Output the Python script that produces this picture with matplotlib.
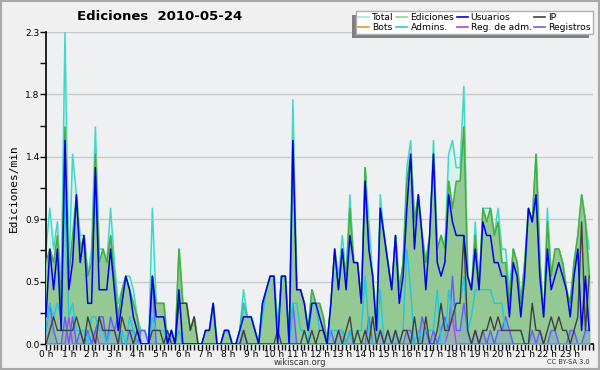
import numpy as np
import matplotlib
matplotlib.use('Agg')
import matplotlib.pyplot as plt
from matplotlib.patches import Rectangle
from matplotlib.lines import Line2D
from matplotlib.ticker import MultipleLocator, FixedLocator

# edits per minute, one value per 10 minutes (144 values)
total = [
    0.7, 1.0, 0.7, 0.9, 0.4, 2.3,  0.5, 1.4, 1.1, 0.8, 0.8, 0.5,
    0.7, 1.6, 0.7, 0.7, 0.6, 1.0,  0.6, 0.3, 0.4, 0.5, 0.5, 0.4,
    0.2, 0.1, 0.1, 0.0, 1.0, 0.3,  0.3, 0.3, 0.0, 0.1, 0.0, 0.7,
    0.3, 0.3, 0.1, 0.2, 0.0, 0.0,  0.1, 0.1, 0.3, 0.0, 0.0, 0.1,
    0.1, 0.0, 0.0, 0.1, 0.4, 0.2,  0.2, 0.1, 0.0, 0.3, 0.4, 0.5,
    0.5, 0.1, 0.5, 0.5, 0.0, 1.8,  0.4, 0.4, 0.3, 0.1, 0.4, 0.3,
    0.3, 0.2, 0.0, 0.3, 0.7, 0.5,  0.8, 0.5, 1.1, 0.6, 0.6, 0.3,
    1.3, 0.9, 0.5, 0.1, 1.1, 0.8,  0.6, 0.4, 0.8, 0.4, 0.6, 1.3,
    1.5, 0.9, 1.1, 0.8, 0.6, 0.8,  1.5, 0.7, 0.8, 0.7, 1.4, 1.5,
    1.3, 1.3, 1.9, 0.5, 0.4, 0.9,  0.4, 1.0, 1.0, 1.0, 0.8, 1.0,
    0.7, 0.7, 0.4, 0.7, 0.6, 0.3,  0.6, 1.0, 0.9, 1.4, 0.6, 0.2,
    1.0, 0.5, 0.7, 0.7, 0.6, 0.4,  0.3, 0.6, 0.8, 1.1, 0.9, 0.7]
ediciones = [
    0.6, 0.7, 0.6, 0.8, 0.3, 1.6,  0.5, 0.8, 1.1, 0.7, 0.8, 0.5,
    0.6, 1.4, 0.6, 0.7, 0.6, 0.8,  0.5, 0.2, 0.4, 0.5, 0.4, 0.3,
    0.2, 0.0, 0.0, 0.0, 0.5, 0.3,  0.3, 0.3, 0.0, 0.1, 0.0, 0.7,
    0.3, 0.3, 0.1, 0.2, 0.0, 0.0,  0.1, 0.1, 0.3, 0.0, 0.0, 0.1,
    0.1, 0.0, 0.0, 0.1, 0.3, 0.2,  0.2, 0.1, 0.0, 0.3, 0.4, 0.5,
    0.5, 0.1, 0.5, 0.5, 0.0, 1.5,  0.4, 0.4, 0.3, 0.1, 0.4, 0.3,
    0.3, 0.2, 0.0, 0.3, 0.7, 0.4,  0.7, 0.5, 1.0, 0.6, 0.6, 0.3,
    1.3, 0.7, 0.5, 0.1, 1.0, 0.8,  0.6, 0.4, 0.8, 0.4, 0.6, 1.2,
    1.4, 0.9, 1.1, 0.8, 0.6, 0.8,  1.4, 0.7, 0.8, 0.7, 1.2, 1.0,
    1.2, 1.2, 1.6, 0.5, 0.4, 0.8,  0.4, 1.0, 0.9, 1.0, 0.8, 0.9,
    0.6, 0.6, 0.3, 0.7, 0.6, 0.3,  0.6, 1.0, 0.9, 1.4, 0.6, 0.2,
    0.9, 0.5, 0.7, 0.7, 0.6, 0.4,  0.3, 0.6, 0.8, 1.1, 0.9, 0.5]
usuarios = [
    0.2, 0.7, 0.4, 0.7, 0.1, 1.5,  0.4, 0.6, 1.1, 0.6, 0.8, 0.3,
    0.3, 1.3, 0.4, 0.4, 0.4, 0.7,  0.4, 0.1, 0.3, 0.5, 0.4, 0.2,
    0.1, 0.0, 0.0, 0.0, 0.5, 0.2,  0.2, 0.2, 0.0, 0.1, 0.0, 0.4,
    0.0, 0.0, 0.0, 0.0, 0.0, 0.0,  0.1, 0.1, 0.3, 0.0, 0.0, 0.1,
    0.1, 0.0, 0.0, 0.1, 0.2, 0.2,  0.2, 0.1, 0.0, 0.3, 0.4, 0.5,
    0.5, 0.0, 0.5, 0.5, 0.0, 1.5,  0.4, 0.4, 0.3, 0.1, 0.3, 0.3,
    0.2, 0.1, 0.0, 0.3, 0.7, 0.4,  0.7, 0.4, 0.8, 0.6, 0.6, 0.3,
    1.2, 0.7, 0.5, 0.1, 1.0, 0.8,  0.6, 0.4, 0.8, 0.3, 0.5, 1.0,
    1.4, 0.7, 1.1, 0.8, 0.4, 0.8,  1.4, 0.6, 0.5, 0.6, 1.1, 0.9,
    0.8, 0.8, 0.8, 0.5, 0.4, 0.7,  0.4, 0.9, 0.8, 0.8, 0.6, 0.6,
    0.5, 0.5, 0.2, 0.6, 0.5, 0.2,  0.5, 1.0, 0.9, 1.1, 0.5, 0.2,
    0.7, 0.4, 0.5, 0.6, 0.5, 0.4,  0.2, 0.5, 0.7, 0.1, 0.5, 0.1]
ip = [
    0.0, 0.1, 0.2, 0.1, 0.1, 0.1,  0.1, 0.1, 0.2, 0.1, 0.0, 0.2,
    0.1, 0.0, 0.2, 0.1, 0.1, 0.1,  0.1, 0.0, 0.2, 0.1, 0.1, 0.0,
    0.1, 0.0, 0.0, 0.0, 0.1, 0.1,  0.1, 0.0, 0.1, 0.0, 0.0, 0.3,
    0.3, 0.3, 0.1, 0.2, 0.0, 0.0,  0.0, 0.0, 0.0, 0.0, 0.0, 0.0,
    0.0, 0.0, 0.0, 0.0, 0.1, 0.0,  0.0, 0.0, 0.0, 0.0, 0.0, 0.0,
    0.0, 0.1, 0.0, 0.0, 0.0, 0.0,  0.0, 0.0, 0.1, 0.0, 0.1, 0.0,
    0.1, 0.1, 0.0, 0.0, 0.0, 0.1,  0.0, 0.1, 0.2, 0.0, 0.1, 0.0,
    0.1, 0.0, 0.2, 0.0, 0.1, 0.0,  0.1, 0.0, 0.1, 0.0, 0.1, 0.1,
    0.0, 0.2, 0.0, 0.0, 0.2, 0.0,  0.0, 0.1, 0.3, 0.1, 0.1, 0.2,
    0.3, 0.3, 0.8, 0.1, 0.0, 0.1,  0.0, 0.1, 0.1, 0.2, 0.1, 0.2,
    0.1, 0.1, 0.1, 0.1, 0.1, 0.1,  0.0, 0.0, 0.3, 0.1, 0.1, 0.0,
    0.1, 0.2, 0.1, 0.2, 0.1, 0.1,  0.0, 0.1, 0.2, 0.9, 0.1, 0.5]
admins = [
    0.1, 0.3, 0.2, 0.3, 0.2, 1.1,  0.2, 0.3, 0.1, 0.1, 0.1, 0.0,
    0.2, 0.2, 0.1, 0.1, 0.0, 0.1,  0.1, 0.0, 0.1, 0.0, 0.2, 0.1,
    0.0, 0.0, 0.0, 0.0, 0.2, 0.1,  0.1, 0.1, 0.0, 0.0, 0.0, 0.1,
    0.0, 0.0, 0.0, 0.0, 0.0, 0.0,  0.0, 0.0, 0.0, 0.0, 0.0, 0.1,
    0.1, 0.0, 0.0, 0.1, 0.3, 0.2,  0.2, 0.1, 0.0, 0.2, 0.4, 0.5,
    0.5, 0.1, 0.5, 0.5, 0.0, 0.3,  0.3, 0.1, 0.1, 0.0, 0.3, 0.3,
    0.1, 0.1, 0.0, 0.1, 0.1, 0.1,  0.1, 0.0, 0.1, 0.0, 0.1, 0.1,
    0.5, 0.1, 0.0, 0.0, 0.4, 0.0,  0.1, 0.0, 0.1, 0.0, 0.1, 0.7,
    0.4, 0.0, 0.1, 0.0, 0.1, 0.1,  0.1, 0.4, 0.0, 0.0, 0.4, 0.2,
    0.3, 0.3, 0.5, 0.1, 0.2, 0.4,  0.4, 0.4, 0.4, 0.4, 0.3, 0.3,
    0.3, 0.1, 0.1, 0.1, 0.1, 0.1,  0.0, 0.0, 0.0, 0.0, 0.0, 0.0,
    0.0, 0.0, 0.0, 0.0, 0.0, 0.0,  0.0, 0.0, 0.0, 0.0, 0.0, 0.0]
registros = [
    0.1, 0.3, 0.1, 0.0, 0.0, 0.2,  0.0, 0.2, 0.0, 0.1, 0.0, 0.1,
    0.0, 0.1, 0.2, 0.2, 0.0, 0.2,  0.1, 0.2, 0.0, 0.0, 0.1, 0.1,
    0.0, 0.1, 0.1, 0.0, 0.5, 0.0,  0.0, 0.0, 0.0, 0.1, 0.0, 0.0,
    0.0, 0.0, 0.0, 0.0, 0.0, 0.0,  0.0, 0.0, 0.0, 0.0, 0.0, 0.0,
    0.0, 0.0, 0.0, 0.0, 0.1, 0.0,  0.0, 0.0, 0.0, 0.0, 0.0, 0.0,
    0.0, 0.0, 0.0, 0.0, 0.0, 0.3,  0.0, 0.0, 0.0, 0.0, 0.0, 0.0,
    0.0, 0.0, 0.0, 0.1, 0.0, 0.1,  0.1, 0.0, 0.1, 0.0, 0.0, 0.0,
    0.0, 0.2, 0.0, 0.0, 0.1, 0.0,  0.1, 0.0, 0.1, 0.0, 0.0, 0.1,
    0.1, 0.0, 0.0, 0.2, 0.1, 0.0,  0.1, 0.0, 0.1, 0.2, 0.1, 0.5,
    0.1, 0.1, 0.3, 0.1, 0.0, 0.1,  0.0, 0.1, 0.0, 0.1, 0.0, 0.1,
    0.1, 0.2, 0.1, 0.0, 0.0, 0.0,  0.0, 0.0, 0.1, 0.0, 0.1, 0.0,
    0.0, 0.1, 0.1, 0.0, 0.0, 0.0,  0.1, 0.1, 0.0, 0.0, 0.1, 0.1]
reg_adm = [0.0] * 144
reg_adm[6] = 0.2
reg_adm[13] = 0.1
reg_adm[106] = 0.1
reg_adm[107] = 0.2
bots = [0.0] * 144

hour_labels = ['%d h' % h for h in range(24)]

hours = np.arange(len(total)) / 6.0

fig = plt.figure(figsize=(6, 3.7), dpi=100)
fig.patch.set_facecolor('#f0f0f0')
ax = fig.add_axes([46 / 600, 26 / 370, 547 / 600, 312 / 370])
ax.set_facecolor('#eef0f2')

c_total = '#40d8c8'
c_edic = '#40b040'
c_usu = '#0000e8'
c_ip = '#404040'
c_bots = '#ff9020'
c_adm = '#20c8e0'
c_regadm = '#c040e0'
c_reg = '#6060ff'

ax.fill_between(hours, total, color='#d8f2ee', zorder=1)
ax.plot(hours, total, color=c_total, lw=1.1, zorder=2)
ax.fill_between(hours, ediciones, color='#94c994', zorder=3)
ax.plot(hours, ediciones, color=c_edic, lw=1.1, zorder=4)
ax.fill_between(hours, registros, color='#8080ff', alpha=0.25, zorder=5)
ax.plot(hours, bots, color=c_bots, lw=1.0, zorder=5)
ax.plot(hours, reg_adm, color=c_regadm, lw=1.0, zorder=6)
ax.plot(hours, registros, color=c_reg, lw=1.0, zorder=6)
ax.plot(hours, admins, color=c_adm, lw=1.0, zorder=7)
ax.plot(hours, ip, color=c_ip, lw=1.0, zorder=8)
ax.plot(hours, usuarios, color=c_usu, lw=1.1, zorder=9)

ax.set_xlim(0, 24)
ax.set_ylim(0, 2.3)
yt = np.linspace(0, 2.3, 6)
ax.yaxis.set_major_locator(FixedLocator(yt))
ax.yaxis.set_minor_locator(FixedLocator(yt[:-1] + 0.23))
ax.set_yticklabels(['%.1f' % v for v in yt], fontsize=6.5)
ax.xaxis.set_major_locator(FixedLocator(range(24)))
ax.xaxis.set_minor_locator(MultipleLocator(1 / 6))
ax.set_xticklabels(hour_labels, fontsize=6.5)
ax.tick_params(axis='both', which='both', direction='out', width=1, colors='black', pad=0.5)
ax.tick_params(axis='both', which='major', length=4)
ax.tick_params(axis='both', which='minor', length=4)
ax.grid(axis='y', color='#c8c8c8', lw=1)
ax.set_axisbelow(True)
for s in ['top', 'right']:
    ax.spines[s].set_visible(False)
ax.spines['left'].set_linewidth(1.2)
ax.spines['bottom'].set_linewidth(1.2)
ax.set_ylabel('Ediciones/min', fontsize=8, family='DejaVu Sans Mono', labelpad=5)

fig.text(160 / 600, 1 - 16 / 370, 'Ediciones  2010-05-24', ha='center', va='center',
         fontsize=9.5, fontweight='bold')
fig.text(300 / 600, 1 - 362.5 / 370, 'wikiscan.org', ha='center', va='center', fontsize=6, color='#333333')
fig.text(590 / 600, 1 - 362.5 / 370, 'CC BY-SA 3.0', ha='right', va='center', fontsize=4.8, color='#333333')

# legend, column-major order
names = ['Total', 'Bots', 'Ediciones', 'Admins.', 'Usuarios', 'Reg. de adm.', 'IP', 'Registros']
cols = ['#a8e8e0', c_bots, '#90d890', c_adm, c_usu, c_regadm, c_ip, c_reg]
handles = [Line2D([], [], color=c, lw=1.2) for c in cols]
leg = fig.legend(handles, names, ncol=4, loc='upper right', bbox_to_anchor=(593 / 600, 1 - 11 / 370),
                 fontsize=6.6, frameon=True, fancybox=False, edgecolor='#b0b0b0',
                 facecolor='white', framealpha=1,
                 labelspacing=0.05, handlelength=1.2, handletextpad=0.35, columnspacing=0.25,
                 borderpad=0.25, borderaxespad=0)
leg.get_frame().set_linewidth(1)
leg.set_zorder(6)
fig.canvas.draw()
bb = leg.get_window_extent().transformed(fig.transFigure.inverted())
fig.patches.append(Rectangle((bb.x0 - 4 / 600, bb.y0 - 4 / 370), bb.width, bb.height,
                             transform=fig.transFigure, facecolor='#808080', edgecolor='none', zorder=4))
fig.patches.append(Rectangle((0.002, 0.003), 0.996, 0.994, transform=fig.transFigure,
                             facecolor='none', edgecolor='#a8a8a8', lw=1.5, zorder=10))

fig.savefig('out.png', dpi=100, facecolor=fig.get_facecolor())
